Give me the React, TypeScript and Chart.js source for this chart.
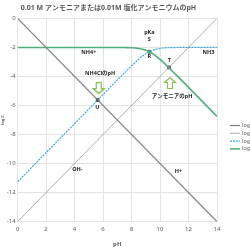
import React, { useEffect, useRef } from "react";
import { Chart, registerables } from "chart.js";

Chart.register(...registerables);

const titleText = "0.01 M アンモニアまたは0.01M 塩化アンモニウムのpH";
const seriesNames = ["log[H+]", "log[OH-]", "log[NH3]", "log[NH4+]"];

const phLine = [0, 14];
const logH = [0, -14];
const logOH = [-14, 0];

const phCurve = [0, 1, 2, 3, 4, 5, 6, 7, 7.5, 8, 8.5, 9, 9.25, 9.5, 10, 10.5, 11, 11.5, 12, 13, 14];
const logNH3 = [-11.25, -10.25, -9.25, -8.25, -7.25, -6.25, -5.25, -4.25, -3.76, -3.27, -2.82, -2.44, -2.3, -2.19, -2.07, -2.02, -2.01, -2.0, -2.0, -2.0, -2.0];
const logNH4 = [-2.0, -2.0, -2.0, -2.0, -2.0, -2.0, -2.0, -2.0, -2.01, -2.02, -2.07, -2.19, -2.3, -2.44, -2.82, -3.27, -3.76, -4.25, -4.75, -5.75, -6.75];

const markX = [9.25, 10.625, 5.625];
const markY = [-2.3, -3.375, -5.625];
const markColors = ["#e07b39", "#111111", "#111111"];

const labelTexts = ["NH4+", "NH3", "pKa", "S", "R", "T", "U", "NH4ClのpH", "アンモニアのpH", "OH-", "H+"];
const labelX = [5.0, 13.4, 9.25, 9.25, 9.25, 10.65, 5.6, 5.8, 10.85, 4.2, 11.3];
const labelY = [-2.35, -2.35, -1.0, -1.45, -2.65, -2.9, -6.15, -3.8, -5.35, -10.4, -10.55];

const arrowX = [5.7, 10.7];
const arrowY = [-4.8, -4.45];
const arrowDir = [1, -1];

const xTicks = [0, 2, 4, 6, 8, 10, 12, 14];

const FONT = "'Noto Sans', 'Noto Sans CJK JP', sans-serif";

const annotationPlugin = {
  id: "annots",
  afterDatasetsDraw(chart: any) {
    const ctx = chart.ctx;
    const xs = chart.scales.x;
    const ys = chart.scales.y;
    ctx.save();
    for (let i = 0; i < arrowX.length; i++) {
      const cx = xs.getPixelForValue(arrowX[i]);
      const cy = ys.getPixelForValue(arrowY[i]);
      const d = arrowDir[i];
      const h = 11;
      const sw = 2.5;
      const hw = 5.5;
      const headLen = 5;
      const top = cy - (h / 2) * d;
      const tip = cy + (h / 2) * d;
      const neck = tip - headLen * d;
      ctx.beginPath();
      ctx.moveTo(cx - sw, top);
      ctx.lineTo(cx + sw, top);
      ctx.lineTo(cx + sw, neck);
      ctx.lineTo(cx + hw, neck);
      ctx.lineTo(cx, tip);
      ctx.lineTo(cx - hw, neck);
      ctx.lineTo(cx - sw, neck);
      ctx.closePath();
      ctx.fillStyle = "#ffffff";
      ctx.fill();
      ctx.strokeStyle = "#86c153";
      ctx.lineWidth = 1.2;
      ctx.stroke();
    }
    ctx.fillStyle = "#222222";
    ctx.font = `bold 5.5px ${FONT}`;
    ctx.textAlign = "center";
    ctx.textBaseline = "middle";
    for (let i = 0; i < labelTexts.length; i++) {
      ctx.fillText(labelTexts[i], xs.getPixelForValue(labelX[i]), ys.getPixelForValue(labelY[i]));
    }
    // custom legend to the right of the plot
    const area = chart.chartArea;
    const lx = area.right + 13;
    let ly = 125.5;
    ctx.font = `5.5px ${FONT}`;
    ctx.textAlign = "left";
    ctx.fillStyle = "#595959";
    for (let i = 0; i < seriesNames.length; i++) {
      const ds = chart.data.datasets[i];
      ctx.save();
      ctx.strokeStyle = ds.borderColor;
      ctx.lineWidth = ds.borderWidth;
      ctx.setLineDash(ds.borderDash || []);
      ctx.beginPath();
      ctx.moveTo(lx, ly);
      ctx.lineTo(lx + 10, ly);
      ctx.stroke();
      ctx.restore();
      ctx.fillText(seriesNames[i], lx + 12, ly);
      ly += 7.8;
    }
    ctx.restore();
  },
};

export default function App() {
  const ref = useRef<HTMLCanvasElement | null>(null);
  useEffect(() => {
    if (!ref.current) return;
    const mk = (xa: number[], ya: number[]) => xa.map((x, i) => ({ x, y: ya[i] }));
    const chart = new Chart(ref.current, {
      type: "line",
      data: {
        datasets: [
          {
            label: seriesNames[0],
            data: mk(phLine, logH),
            borderColor: "#7f7f7f",
            borderWidth: 1.2,
            pointRadius: 0,
          },
          {
            label: seriesNames[1],
            data: mk(phLine, logOH),
            borderColor: "#a6a6a6",
            borderWidth: 0.9,
            pointRadius: 0,
          },
          {
            label: seriesNames[2],
            data: mk(phCurve, logNH3),
            borderColor: "#3aa9e0",
            borderWidth: 1.2,
            borderDash: [2, 1],
            pointRadius: 0,
            cubicInterpolationMode: "monotone",
          },
          {
            label: seriesNames[3],
            data: mk(phCurve, logNH4),
            borderColor: "#4cb07c",
            borderWidth: 1.6,
            pointRadius: 0,
            cubicInterpolationMode: "monotone",
          },
          {
            label: "marks",
            data: mk(markX, markY),
            showLine: false,
            pointRadius: 2,
            pointStyle: "rect",
            backgroundColor: markColors,
            borderColor: "#111111",
            borderWidth: 0.6,
          } as any,
        ],
      },
      options: {
        animation: false,
        responsive: true,
        maintainAspectRatio: false,
        layout: { padding: { top: 2, left: 0, right: 33, bottom: 2 } },
        plugins: {
          title: {
            display: true,
            text: titleText,
            color: "#595959",
            font: { family: FONT, size: 7, weight: "bold" },
            padding: { top: 2, bottom: 6 },
          },
          legend: { display: false },
          tooltip: { enabled: false },
        },
        scales: {
          x: {
            type: "linear",
            min: 0,
            max: 14,
            afterBuildTicks: (axis: any) => {
              axis.ticks = xTicks.map((v) => ({ value: v }));
            },
            grid: { color: "#e3e3e3", drawTicks: false },
            border: { display: false },
            ticks: { color: "#595959", font: { family: FONT, size: 6 }, padding: 4 },
            title: {
              display: true,
              text: "pH",
              color: "#595959",
              font: { family: FONT, size: 6, weight: "bold" },
              padding: { top: 4, bottom: 0 },
            },
          },
          y: {
            min: -14,
            max: 0,
            grid: { color: "#e3e3e3", drawTicks: false },
            border: { display: false },
            ticks: { stepSize: 2, color: "#595959", font: { family: FONT, size: 6 }, padding: 2 },
            title: {
              display: true,
              text: "log C",
              color: "#595959",
              font: { family: FONT, size: 4, weight: "bold" },
              padding: 0,
            },
          },
        },
      },
      plugins: [annotationPlugin],
    } as any);
    return () => chart.destroy();
  }, []);
  return (
    <div style={{ position: "fixed", left: 0, top: 0, width: 250, height: 250 }}>
      <canvas ref={ref} />
    </div>
  );
}
